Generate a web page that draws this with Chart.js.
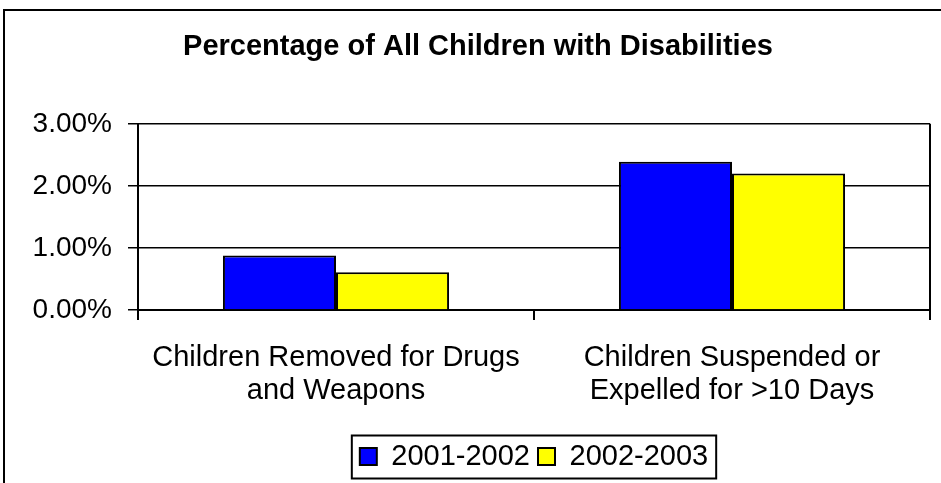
<!DOCTYPE html>
<html>
<head>
    <title>Percentage of All Children with Disabilities</title>
    <script src="https://cdn.jsdelivr.net/npm/chart.js"></script>
    <style>
        body { margin: 0; overflow: hidden; background: #fff; }
        #wrap { width: 941px; height: 483px; overflow: hidden; }
    </style>
</head>
<body>
    <div id="wrap">
        <canvas id="disabilityChart" width="941" height="500"></canvas>
    </div>

    <script>
        var categories = [
            ['Children Removed for Drugs', 'and Weapons'],
            ['Children Suspended or', 'Expelled for >10 Days']
        ];
        var years = ['2001-2002', '2002-2003'];
        var pct2001 = [0.88, 2.39];
        var pct2002 = [0.61, 2.20];
        var yTicks = [0, 1, 2, 3];

        var fontFamily = '"Liberation Sans", Arial, sans-serif';

        // outer frame, right edge of the plot and the box round the legend
        var framePlugin = {
            id: 'frame',
            beforeDraw: function (chart) {
                var c = chart.ctx;
                c.save();
                c.fillStyle = '#fff';
                c.fillRect(0, 0, chart.width, chart.height);
                c.strokeStyle = '#000';
                c.lineWidth = 2;
                c.strokeRect(4, 10, 1000, 1000);
                c.restore();
            },
            afterDraw: function (chart) {
                var c = chart.ctx;
                var area = chart.chartArea;
                c.save();
                c.strokeStyle = '#000';
                c.lineWidth = 2;
                c.beginPath();
                c.moveTo(area.right, area.top);
                c.lineTo(area.right, area.bottom);
                c.stroke();

                var boxes = chart.legend.legendHitBoxes;
                if (boxes && boxes.length) {
                    var left = Math.min.apply(null, boxes.map(function (b) { return b.left; }));
                    var right = Math.max.apply(null, boxes.map(function (b) { return b.left + b.width; }));
                    var mid = boxes[0].top + boxes[0].height / 2;
                    c.strokeRect(left - 8, mid - 21, right - left + 16, 43);
                }
                c.restore();
            }
        };

        new Chart(document.getElementById('disabilityChart'), {
            type: 'bar',
            data: {
                labels: categories,
                datasets: [{
                    label: years[0],
                    data: pct2001,
                    backgroundColor: '#0000ff',
                    borderColor: '#000',
                    borderWidth: 2
                }, {
                    label: years[1],
                    data: pct2002,
                    backgroundColor: '#ffff00',
                    borderColor: '#000',
                    borderWidth: 2
                }]
            },
            options: {
                responsive: false,
                animation: false,
                layout: { padding: { left: 26, right: 11, top: 0, bottom: 19 } },
                datasets: {
                    bar: { categoryPercentage: 0.571, barPercentage: 1.0 }
                },
                scales: {
                    x: {
                        afterFit: function (scale) { scale.height = 124; },
                        grid: {
                            drawOnChartArea: false,
                            color: '#000',
                            lineWidth: 2,
                            tickLength: 10
                        },
                        border: { color: '#000', width: 2 },
                        ticks: {
                            color: '#000',
                            padding: 21,
                            maxRotation: 0,
                            font: { family: fontFamily, size: 29, lineHeight: 1.14 }
                        }
                    },
                    y: {
                        min: yTicks[0],
                        max: yTicks[yTicks.length - 1],
                        afterFit: function (scale) { scale.width = 112; },
                        afterBuildTicks: function (scale) {
                            scale.ticks = yTicks.map(function (v) { return { value: v }; });
                        },
                        grid: {
                            color: '#000',
                            lineWidth: 1.5,
                            tickLength: 10
                        },
                        border: { color: '#000', width: 2 },
                        ticks: {
                            color: '#000',
                            padding: 16,
                            font: { family: fontFamily, size: 28 },
                            callback: function (value) { return value.toFixed(2) + '%'; }
                        }
                    }
                },
                plugins: {
                    title: {
                        display: true,
                        text: 'Percentage of All Children with Disabilities',
                        color: '#000',
                        font: { family: fontFamily, size: 29, weight: 'bold' },
                        padding: { top: 30, bottom: 59 }
                    },
                    legend: {
                        position: 'bottom',
                        fullSize: false,
                        labels: {
                            color: '#000',
                            boxWidth: 17,
                            boxHeight: 17,
                            padding: 8,
                            font: { family: fontFamily, size: 29 }
                        }
                    },
                    tooltip: { enabled: false }
                }
            },
            plugins: [framePlugin]
        });
    </script>
</body>
</html>
